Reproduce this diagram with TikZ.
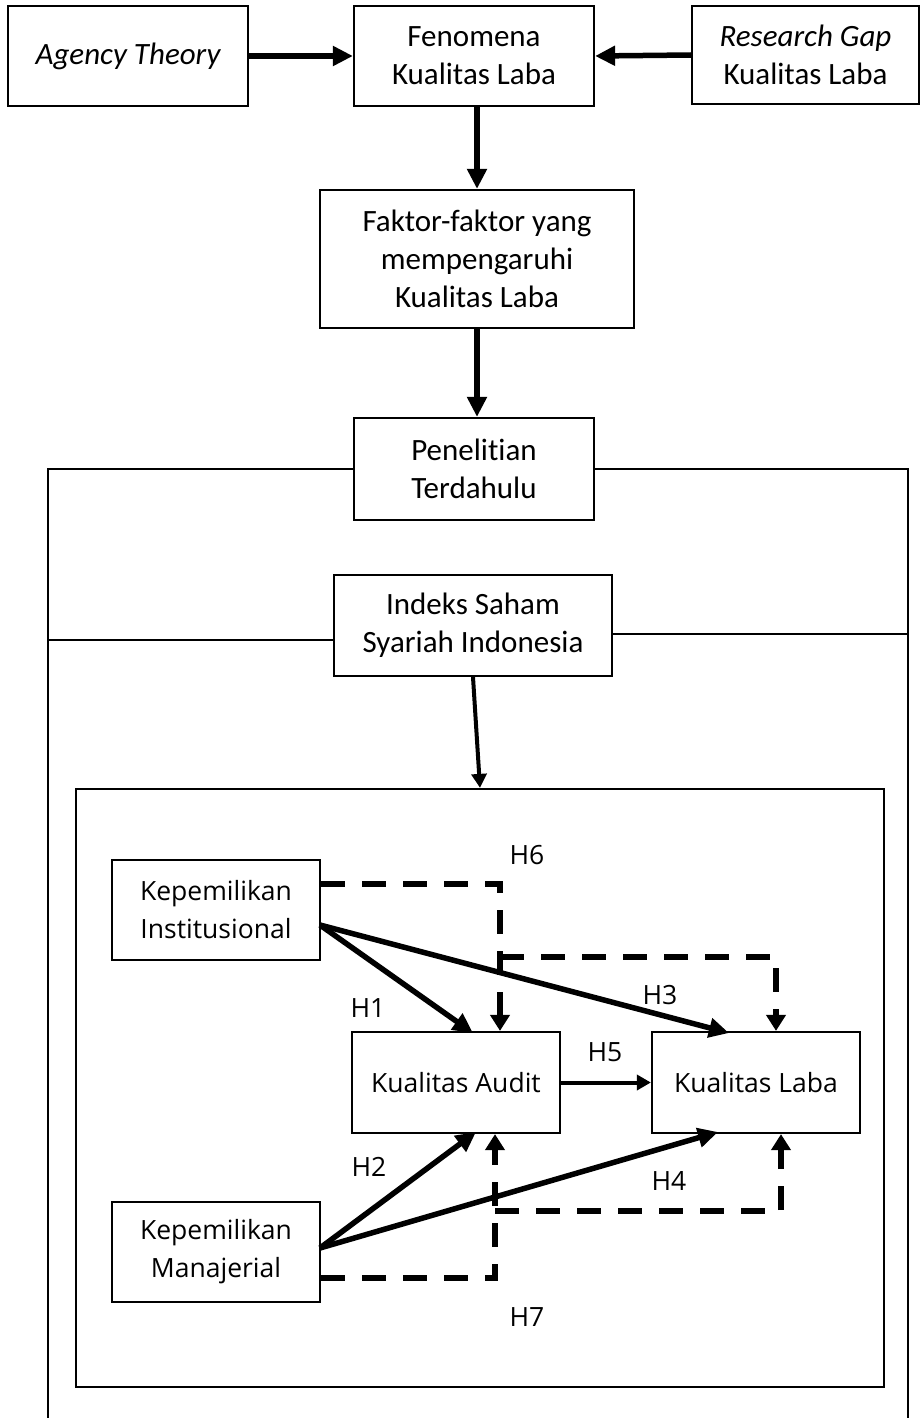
\documentclass[tikz,border=0pt]{standalone}
\usepackage{fontspec}
\setmainfont{Carlito}[Ligatures=NoCommon]
\newfontfamily\osans{Open Sans}
\usetikzlibrary{arrows.meta,calc}
\begin{document}
\begin{tikzpicture}[x=1pt,y=-1pt,
  box/.style={draw, line width=2.2pt, align=center, inner sep=0pt, fill=white},
  tbox/.style={box, font=\fontsize{31}{38}\selectfont},
  bbox/.style={box, font=\osans\fontsize{26.5}{38}\selectfont},
  hlab/.style={font=\osans\fontsize{26.5}{30}\selectfont, inner sep=0pt},
  frame/.style={line width=2.2pt},
  bigarr/.style={line width=5.5pt, -{Triangle[length=20pt,width=19pt]}},
  midarr/.style={line width=4pt, -{Triangle[length=14pt,width=15pt]}},
  dasharr/.style={line width=6pt, dash pattern=on 24pt off 17pt, -{Triangle[length=16pt,width=19pt]}}
]
\useasboundingbox (0,0) rectangle (922,1418);

% top row
\node[tbox, minimum width=240pt, minimum height=100pt] (agency) at (128,56) {\itshape Agency Theory};
\node[tbox, minimum width=240pt, minimum height=100pt] (fen) at (474,56) {Fenomena\\Kualitas Laba};
\node[tbox, minimum width=227pt, minimum height=98pt] (gap) at (805.5,55) {\itshape Research Gap\\Kualitas Laba};
\node[tbox, minimum width=314pt, minimum height=138pt] (faktor) at (477,259) {Faktor-faktor yang\\mempengaruhi\\Kualitas Laba};

% outer frame
\coordinate (otl) at (48,469);
\coordinate (otr) at (908,469);
\coordinate (obl) at (48,1430);
\coordinate (obr) at (908,1430);
\coordinate (ml) at (48,640);
\coordinate (mr) at (908,634);
\draw[frame] (obl) -- (otl) -- (otr) -- (obr);
\draw[frame] (ml) -- (334,640);
\draw[frame] (612,634) -- (mr);

\node[tbox, minimum width=240pt, minimum height=102pt] (pen) at (474,469) {Penelitian\\Terdahulu};
\node[tbox, minimum width=278pt, minimum height=101pt] (indeks) at (473,625.5) {Indeks Saham\\Syariah Indonesia};

\node[box, minimum width=808pt, minimum height=598pt] (inner) at (480,1088) {};

% arrows top
\draw[bigarr] (agency.east) -- (fen.west);
\draw[bigarr] (gap.west) -- (fen.west -| fen.east);
\draw[bigarr] (fen.south -| faktor.north) -- (faktor.north);
\draw[bigarr] (faktor.south) -- (faktor.south |- pen.north);
\draw[midarr] (indeks.south) -- (inner.north);

% inner nodes
\node[bbox, minimum width=208pt, minimum height=100pt] (inst) at (216,910) {Kepemilikan\\Institusional};
\node[bbox, minimum width=208pt, minimum height=101pt] (audit) at (456,1082.5) {Kualitas Audit};
\node[bbox, minimum width=208pt, minimum height=101pt] (laba) at (756,1082.5) {Kualitas Laba};
\node[bbox, minimum width=208pt, minimum height=100pt] (manaj) at (216,1252) {Kepemilikan\\Manajerial};

% dashed moderation paths
\coordinate (d6) at (500,884);
\coordinate (d3a) at (500,957);
\coordinate (d3b) at (776,957);
\coordinate (d7) at (495,1278);
\coordinate (d4a) at (495,1211);
\coordinate (d4b) at (781,1211);
\draw[dasharr] (inst.east |- d6) -- (d6) -- (d6 |- audit.north);
\draw[dasharr] (d3a) -- (d3b) -- (d3b |- laba.north);
\draw[dasharr] (manaj.east |- d7) -- (d7) -- (d7 |- audit.south);
\draw[dasharr] (d4a) -- (d4b) -- (d4b |- laba.south);

% direct paths
\coordinate (ie) at (320,925);
\coordinate (me) at (320,1248);
\draw[bigarr] (ie) -- (473,1033);
\draw[bigarr] (ie) -- (729,1033);
\draw[bigarr] (me) -- (476,1132);
\draw[bigarr] (me) -- (718,1132);
\draw[midarr] (audit.east) -- (laba.west);

% labels
\node[hlab] (h6) at (527,855) {H6};
\node[hlab] (h1) at (368,1008) {H1};
\node[hlab] (h3) at (660,995) {H3};
\node[hlab] (h5) at (605,1052) {H5};
\node[hlab] (h2) at (369,1167) {H2};
\node[hlab] (h4) at (669,1181) {H4};
\node[hlab] (h7) at (527,1317) {H7};
\end{tikzpicture}
\end{document}
